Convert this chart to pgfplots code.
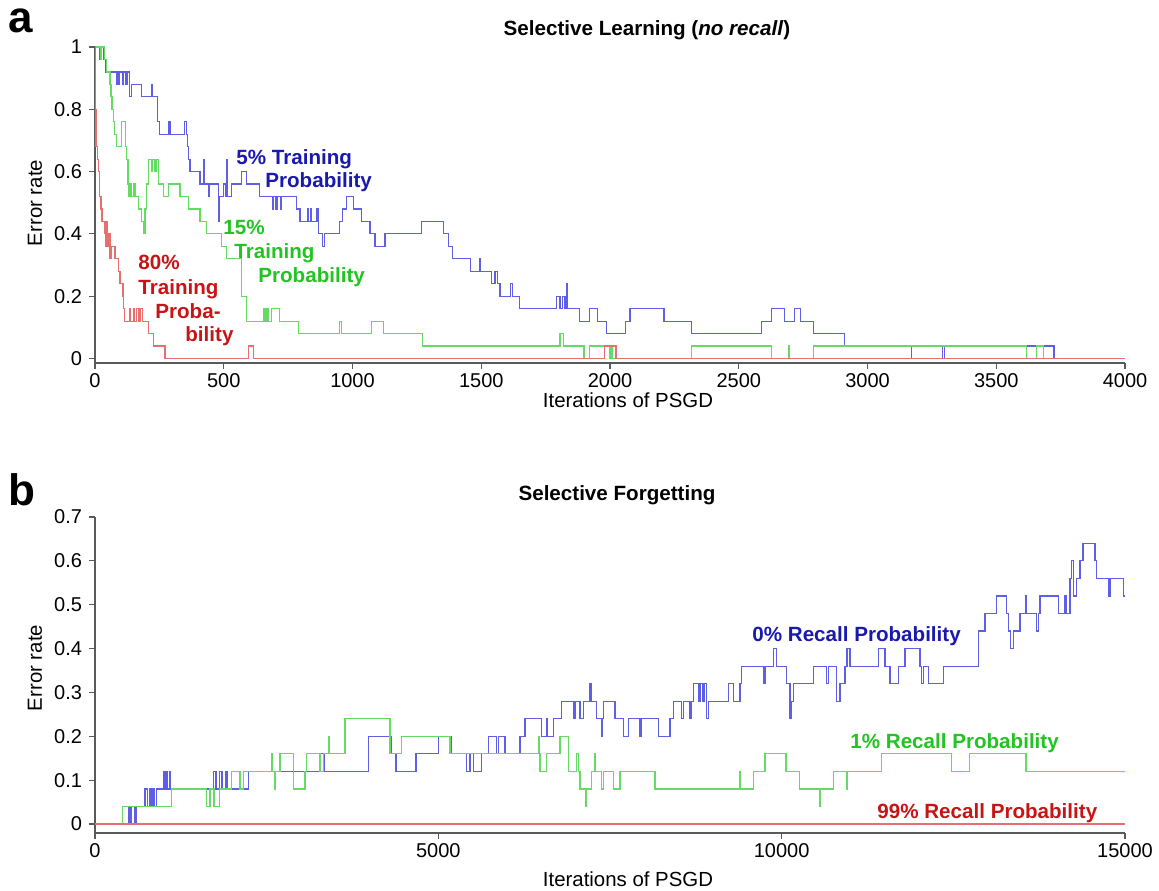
\documentclass[border=0pt]{standalone}
\usepackage{fontspec}
\setmainfont{Liberation Sans}
\usepackage{pgfplots}
\pgfplotsset{compat=1.18}
\definecolor{lblue}{RGB}{95,95,230}
\definecolor{lgreen}{RGB}{100,220,100}
\definecolor{lred}{RGB}{235,110,110}
\definecolor{tblue}{RGB}{25,25,175}
\definecolor{tgreen}{RGB}{35,195,35}
\definecolor{tred}{RGB}{200,20,20}
\definecolor{axgray}{RGB}{90,90,90}
\pgfplotsset{myaxis/.style={scale only axis, width=515pt, height=158pt,
  axis x line*=bottom, axis y line*=left,
  axis line style={axgray, line width=0.6pt,-},
  tick style={axgray, line width=0.6pt}, tick align=outside, major tick length=3pt,
  tick label style={font=\fontsize{10}{12}\selectfont, text=black},
  xticklabel style={yshift=1.5pt},
  scaled x ticks=false, scaled y ticks=false,
  clip=false, anchor=south west, /pgf/number format/assume math mode=true}}
\newcommand{\bl}{\fontsize{10.3}{12}\selectfont\bfseries}
\begin{document}
\begin{tikzpicture}[x=1pt,y=1pt]
\path[use as bounding box] (0,0) rectangle (579.5,445);
\begin{axis}[myaxis, at={(47.5pt,263.5pt)}, xmin=0, xmax=4000, ymin=-0.0145, ymax=1,
  xtick={0,500,...,4000}, xticklabels={0,500,1000,1500,2000,2500,3000,3500,4000},
  ytick={0,0.2,0.4,0.6,0.8,1}, yticklabels={0,0.2,0.4,0.6,0.8,1}]
\addplot[const plot, lblue, line width=0.6pt] coordinates {
(0,1)(18,0.96)(24,1)(32,0.96)(42,0.92)(82,0.88)(86,0.92)(91,0.88)(95,0.92)(107,0.88)(111,0.92)(120,0.88)(124,0.92)(135,0.84)(143,0.88)(181,0.84)(218,0.88)(222,0.84)(243,0.76)(250,0.72)(287,0.76)(291,0.72)(348,0.76)(354,0.72)(360,0.68)(364,0.64)(369,0.60)(408,0.56)(420,0.64)(423,0.56)(440,0.52)(444,0.56)(479,0.44)(485,0.52)(498,0.56)(508,0.52)(511,0.64)(514,0.52)(530,0.56)(569,0.60)(589,0.56)(640,0.52)(690,0.48)(694,0.52)(703,0.48)(707,0.52)(720,0.48)(724,0.52)(783,0.48)(796,0.44)(824,0.48)(828,0.44)(836,0.48)(840,0.44)(862,0.48)(866,0.44)(867,0.40)(885,0.36)(890,0.40)(951,0.44)(961,0.48)(977,0.52)(1003,0.48)(1035,0.44)(1068,0.40)(1087,0.36)(1126,0.40)(1269,0.44)(1353,0.40)(1372,0.36)(1389,0.32)(1459,0.28)(1493,0.32)(1497,0.28)(1540,0.24)(1553,0.28)(1562,0.24)(1573,0.20)(1614,0.24)(1622,0.20)(1648,0.16)(1793,0.20)(1806,0.16)(1816,0.20)(1825,0.16)(1832,0.24)(1834,0.16)(1880,0.12)(1920,0.16)(1951,0.12)(1985,0.08)(2061,0.12)(2078,0.16)(2210,0.12)(2317,0.08)(2589,0.12)(2628,0.16)(2679,0.12)(2718,0.16)(2740,0.12)(2789,0.08)(2912,0.04)(3171,0)(3292,0.04)(3300,0)(3618,0.04)(3724,0)(4000,0)};
\addplot[const plot, lgreen, line width=0.6pt] coordinates {
(0,1)(20,0.96)(26,1)(38,0.96)(44,0.92)(58,0.88)(62,0.84)(66,0.80)(72,0.76)(77,0.72)(84,0.68)(104,0.76)(117,0.68)(122,0.64)(128,0.56)(132,0.52)(137,0.56)(142,0.52)(150,0.56)(155,0.52)(170,0.48)(182,0.44)(189,0.40)(194,0.48)(200,0.56)(207,0.64)(220,0.60)(224,0.64)(233,0.60)(237,0.64)(246,0.56)(265,0.52)(285,0.56)(330,0.52)(362,0.48)(408,0.44)(434,0.40)(492,0.36)(511,0.32)(570,0.20)(589,0.12)(654,0.16)(660,0.12)(668,0.16)(672,0.12)(686,0.16)(718,0.12)(790,0.08)(951,0.12)(958,0.08)(1074,0.12)(1120,0.08)(1271,0.04)(1806,0.08)(1819,0.04)(1899,0)(1920,0.04)(2000,0)(2004,0.04)(2008,0)(2317,0.04)(2628,0)(2692,0.04)(2697,0)(2789,0.04)(3618,0)(3657,0.04)(3682,0)(4000,0)};
\addplot[const plot, lred, line width=0.6pt] coordinates {
(0,1)(2,0.80)(4,0.68)(9,0.64)(13,0.60)(16,0.56)(19,0.52)(23,0.48)(27,0.44)(39,0.40)(42,0.36)(46,0.44)(50,0.36)(54,0.40)(58,0.32)(62,0.36)(78,0.32)(91,0.28)(97,0.24)(106,0.20)(108,0.24)(110,0.16)(114,0.12)(133,0.16)(137,0.12)(149,0.16)(153,0.12)(162,0.16)(168,0.12)(175,0.16)(185,0.12)(207,0.08)(226,0.04)(272,0)(595,0.04)(615,0)(1980,0.04)(2023,0)(4000,0)};
\end{axis}
\begin{axis}[myaxis, at={(47.5pt,28.5pt)}, xmin=0, xmax=15000, ymin=-0.0205, ymax=0.7,
  xtick={0,5000,10000,15000}, xticklabels={0,5000,10000,15000},
  ytick={0,0.1,0.2,0.3,0.4,0.5,0.6,0.7}, yticklabels={0,0.1,0.2,0.3,0.4,0.5,0.6,0.7}]
\addplot[const plot, lblue, line width=0.6pt] coordinates {
(0,0)(495,0.04)(505,0)(519,0.04)(530,0)(582,0.04)(590,0)(607,0.04)(728,0.08)(760,0.04)(801,0.08)(830,0.04)(849,0.08)(870,0.04)(898,0.08)(1005,0.12)(1020,0.08)(1034,0.12)(1050,0.08)(1082,0.12)(1100,0.08)(1723,0.12)(1762,0.08)(1810,0.12)(1850,0.08)(1908,0.12)(1932,0.08)(2233,0.12)(3276,0.16)(3340,0.12)(3980,0.20)(4320,0.16)(4383,0.12)(4674,0.16)(4999,0.20)(5194,0.16)(5412,0.12)(5460,0.16)(5509,0.12)(5630,0.16)(5728,0.20)(5850,0.16)(5875,0.20)(5971,0.16)(6189,0.20)(6262,0.24)(6505,0.20)(6578,0.24)(6590,0.20)(6675,0.24)(6796,0.28)(6966,0.24)(6990,0.28)(7063,0.24)(7112,0.28)(7209,0.32)(7233,0.28)(7306,0.24)(7379,0.20)(7390,0.24)(7403,0.28)(7573,0.24)(7694,0.20)(7767,0.24)(7937,0.20)(7961,0.24)(8204,0.20)(8374,0.24)(8422,0.28)(8544,0.24)(8568,0.28)(8665,0.24)(8690,0.28)(8714,0.32)(8786,0.28)(8811,0.32)(8850,0.28)(8870,0.32)(8908,0.24)(8930,0.28)(9223,0.32)(9296,0.28)(9393,0.32)(9410,0.36)(9733,0.32)(9757,0.36)(9879,0.40)(9927,0.36)(10073,0.32)(10120,0.24)(10146,0.28)(10170,0.32)(10461,0.36)(10655,0.32)(10680,0.36)(10801,0.28)(10849,0.32)(10922,0.36)(10950,0.40)(10995,0.36)(11407,0.40)(11505,0.36)(11577,0.32)(11699,0.36)(11796,0.40)(12014,0.36)(12040,0.32)(12063,0.36)(12136,0.32)(12354,0.36)(12864,0.44)(12961,0.48)(13131,0.52)(13277,0.48)(13301,0.44)(13335,0.40)(13374,0.44)(13471,0.48)(13558,0.52)(13570,0.48)(13714,0.44)(13738,0.48)(13762,0.52)(14029,0.48)(14126,0.52)(14150,0.48)(14199,0.56)(14223,0.60)(14250,0.52)(14296,0.56)(14344,0.60)(14388,0.64)(14563,0.60)(14587,0.56)(14757,0.52)(14780,0.56)(14976,0.52)(15000,0.52)};
\addplot[const plot, lgreen, line width=0.6pt] coordinates {
(0,0)(398,0.04)(1116,0.08)(1626,0.04)(1675,0.08)(1733,0.04)(1810,0.08)(1990,0.12)(2111,0.08)(2160,0.12)(2572,0.16)(2590,0.12)(2610,0.08)(2630,0.12)(2694,0.16)(2888,0.08)(3058,0.12)(3082,0.16)(3276,0.12)(3330,0.16)(3398,0.20)(3420,0.16)(3640,0.24)(4296,0.16)(4466,0.20)(5169,0.16)(6456,0.20)(6470,0.16)(6481,0.12)(6578,0.16)(6772,0.20)(6893,0.12)(7015,0.16)(7040,0.12)(7063,0.08)(7150,0.04)(7160,0.08)(7233,0.12)(7282,0.16)(7292,0.12)(7379,0.08)(7403,0.12)(7549,0.08)(7646,0.12)(8155,0.08)(9393,0.12)(9403,0.08)(9587,0.12)(9757,0.16)(10063,0.12)(10258,0.08)(10558,0.04)(10570,0.08)(10753,0.12)(10947,0.08)(10957,0.12)(11456,0.16)(12476,0.12)(12733,0.16)(13558,0.12)(15000,0.12)};
\addplot[const plot, lred, line width=0.6pt] coordinates {(0,0)(15000,0)};
\end{axis}
% panel letters and titles
\node[anchor=base west, inner sep=0pt, font=\fontsize{22}{22}\selectfont\bfseries] at (4,428.5) {a};
\node[anchor=base west, inner sep=0pt, font=\fontsize{22}{22}\selectfont\bfseries] at (4,192.5) {b};
\node[anchor=base, inner sep=0pt, font=\bl] at (323.5,427) {Selective Learning (\textit{no recall})};
\node[anchor=base, inner sep=0pt, font=\bl] at (308.5,195) {Selective Forgetting};
\node[anchor=base, inner sep=0pt, font=\fontsize{10.2}{12}\selectfont] at (314,241.5) {Iterations of PSGD};
\node[anchor=base, inner sep=0pt, font=\fontsize{10.2}{12}\selectfont] at (314,2) {Iterations of PSGD};
\node[rotate=90, inner sep=0pt, font=\fontsize{10.2}{12}\selectfont] at (17.5,343.5) {Error rate};
\node[rotate=90, inner sep=0pt, font=\fontsize{10.2}{12}\selectfont] at (17.5,111) {Error rate};
% annotations
\node[anchor=base west, inner sep=0pt, font=\bl, text=tblue] at (118,362.5) {5\% Training};
\node[anchor=base west, inner sep=0pt, font=\bl, text=tblue] at (132.5,351) {Probability};
\node[anchor=base west, inner sep=0pt, font=\bl, text=tgreen] at (111.5,327.5) {15\%};
\node[anchor=base west, inner sep=0pt, font=\bl, text=tgreen] at (117,315.5) {Training};
\node[anchor=base west, inner sep=0pt, font=\bl, text=tgreen] at (129,303.5) {Probability};
\node[anchor=base west, inner sep=0pt, font=\bl, text=tred] at (69,310) {80\%};
\node[anchor=base west, inner sep=0pt, font=\bl, text=tred] at (69,298) {Training};
\node[anchor=base west, inner sep=0pt, font=\bl, text=tred] at (77.5,286) {Proba-};
\node[anchor=base west, inner sep=0pt, font=\bl, text=tred] at (92.5,274.5) {bility};
\node[anchor=base west, inner sep=0pt, font=\bl, text=tblue] at (376,124.5) {0\% Recall Probability};
\node[anchor=base west, inner sep=0pt, font=\bl, text=tgreen] at (425,71) {1\% Recall Probability};
\node[anchor=base west, inner sep=0pt, font=\bl, text=tred] at (438.5,36) {99\% Recall Probability};
\end{tikzpicture}
\end{document}
